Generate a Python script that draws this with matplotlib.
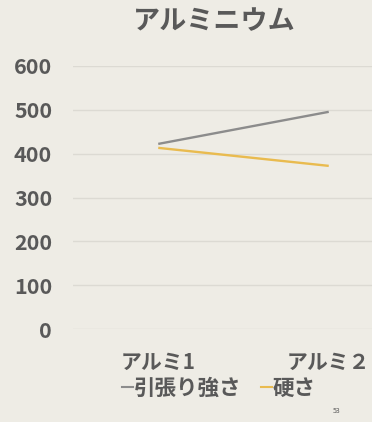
import matplotlib
matplotlib.use("Agg")
import matplotlib.pyplot as plt
from matplotlib.lines import Line2D

# data
categories = ["アルミ1", "アルミ２"]
tensile = [422, 495]
hardness = [413, 372]
series_names = ["引張り強さ", "硬さ"]
y_ticks = [0, 100, 200, 300, 400, 500, 600]

bg = "#eeece5"
text_col = "#595959"
gray = "#8c8c8c"
orange = "#e9bb4f"
grid_col = "#dcdad3"

plt.rcParams["font.family"] = ["Noto Sans CJK JP", "DejaVu Sans"]

fig = plt.figure(figsize=(3.72, 4.22), dpi=100, facecolor=bg)
ax = fig.add_axes([73 / 372, (422 - 329.3) / 422, (414 - 73) / 372, (329.3 - 65.7) / 422])
ax.set_facecolor(bg)

x = range(len(categories))
ax.plot(x, tensile, color=gray, lw=1.7, solid_capstyle="butt")
ax.plot(x, hardness, color=orange, lw=1.7, solid_capstyle="butt")

ax.set_xlim(-0.5, 1.5)
ax.set_ylim(0, 600)
ax.set_yticks(y_ticks)
ax.set_yticklabels([str(v) for v in y_ticks], fontsize=15.5, fontweight="bold", color=text_col)
ax.set_xticks(list(x))
ax.set_xticklabels(categories, fontsize=15, fontweight="bold", color=text_col)
ax.tick_params(axis="y", length=0, pad=15)
ax.tick_params(axis="x", length=0, pad=16)
ax.grid(axis="y", color=grid_col, lw=1)
ax.set_axisbelow(True)
for s in ax.spines.values():
    s.set_visible(False)

fig.text(214 / 372, 1 - 21 / 422, "アルミニウム", ha="center", va="center",
         fontsize=19.5, fontweight="bold", color=text_col)

handles = [Line2D([], [], color=gray, lw=1.5), Line2D([], [], color=orange, lw=1.5)]
fig.legend(handles, series_names, loc="center", bbox_to_anchor=(219 / 372, 1 - 388 / 422),
           ncol=2, frameon=False, handlelength=0.5, handletextpad=0.05, columnspacing=0.9,
           borderpad=0.1, prop={"size": 15.5, "weight": "bold"}, labelcolor=text_col)

fig.text(337 / 372, 1 - 411 / 422, "53", ha="center", va="center", fontsize=5, color=text_col)

fig.savefig("out.png", dpi=100, facecolor=bg)
